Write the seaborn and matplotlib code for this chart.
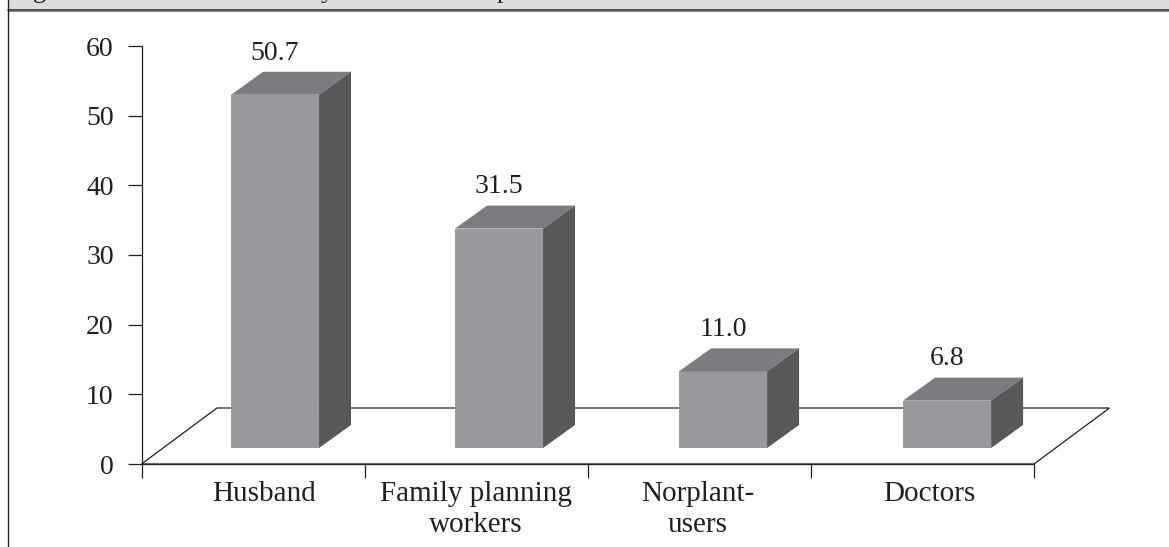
import matplotlib
matplotlib.use('Agg')
import matplotlib.pyplot as plt
from matplotlib.patches import Polygon, Rectangle
from matplotlib.lines import Line2D
import seaborn as sns

# values
categories = ['Husband', 'Family planning\nworkers', 'Norplant-\nusers', 'Doctors']
values = [50.7, 31.5, 11.0, 6.8]
y_ticks = [0, 10, 20, 30, 40, 50, 60]
# only the descenders of the caption survive the crop
caption_letters = ['g', 'y', 'p']
caption_x_px = [33, 321, 497]

W, H = 1169, 547
FRONT = '#98999c'
TOP = '#7b7c7f'
SIDE = '#58585a'
BAND = '#dcddde'
INK = '#231f20'

sns.set_style('ticks')
plt.rcParams['font.family'] = ['Liberation Serif', 'DejaVu Serif']

fig = plt.figure(figsize=(W / 100, H / 100), dpi=100)
ax = fig.add_axes([141.5 / W, 1 - 464 / H, (1034 - 141.5) / W, (464 - 46) / H])
ax.patch.set_alpha(0)

slot = 224.0  # px between bars
tick_step = 223.1 / slot  # the axis ticks are spaced a little tighter than the bars
px_y = 418 / 60  # px per unit
base = 16 / px_y
depth_x, depth_y = 32 / slot, 23 / px_y

sns.barplot(x=categories, y=values, color=FRONT, saturation=1, width=88 / slot,
            bottom=base, linewidth=0, ax=ax, zorder=3)

x_left, x_right = -133.5 / slot, -133.5 / slot + 4 * tick_step
ax.set_xlim(x_left, x_right)
ax.set_ylim(0, 60)

# 3D sides of each bar, taken from the bars seaborn drew
for bar in ax.containers[0]:
    x0, x1 = bar.get_x(), bar.get_x() + bar.get_width()
    y0, y1 = bar.get_y(), bar.get_y() + bar.get_height()
    ax.add_patch(Polygon([(x0, y1), (x1, y1), (x1 + depth_x, y1 + depth_y), (x0 + depth_x, y1 + depth_y)],
                         closed=True, fc=TOP, ec='none', zorder=3, clip_on=False))
    ax.add_patch(Polygon([(x1, y0), (x1, y1), (x1 + depth_x, y1 + depth_y), (x1 + depth_x, y0 + depth_y)],
                         closed=True, fc=SIDE, ec='none', zorder=3, clip_on=False))

# floor
floor_x, floor_y = 75.5 / slot, 56 / px_y
ax.add_patch(Polygon([(x_left, 0), (x_left + floor_x, floor_y), (x_right + floor_x, floor_y), (x_right, 0)],
                     closed=True, fc='white', ec=INK, lw=0.9, zorder=1, clip_on=False))

# bar_label would print the top edge (value + floor offset), so pass the values
ax.bar_label(ax.containers[0], labels=[f'{v:.1f}' for v in values], padding=21, fontsize=20, color=INK)

sns.despine(ax=ax)
for side in ['left', 'bottom']:
    ax.spines[side].set_color(INK)
    ax.spines[side].set_linewidth(0.9)

ax.set_yticks(y_ticks)
ax.tick_params(axis='y', length=10, width=0.9, color=INK, pad=10, labelsize=20, labelcolor=INK)

# boundaries get the tick marks, labels sit between them
ax.set_xticks([x_left + i * tick_step for i in range(5)])
ax.set_xticklabels([])
ax.tick_params(axis='x', which='major', length=10, width=0.9, color=INK)
ax.set_xticks([-0.047, 0.897, 1.888, 2.92], minor=True)
ax.set_xticklabels(categories, minor=True, fontsize=21, color=INK, linespacing=1.25)
ax.tick_params(axis='x', which='minor', length=0, pad=12)
ax.set_xlabel('')
ax.set_ylabel('')

# page furniture: caption band and left rule
fig.add_artist(Rectangle((8 / W, 1 - 9.5 / H), 1 - 8 / W, 9.5 / H, fc=BAND, ec='none', zorder=0))
fig.add_artist(Line2D([8 / W, 1], [1 - 9.5 / H] * 2, color=INK, lw=1.1))
fig.add_artist(Line2D([8 / W, 1], [1 - 10.7 / H] * 2, color='#8a8a8c', lw=0.8))
fig.add_artist(Line2D([7.5 / W] * 2, [0, 1], color=INK, lw=1.0))
for letter, x_px in zip(caption_letters, caption_x_px):
    fig.text(x_px / W, 1 + 2 / H, letter, fontsize=19, color=INK, va='baseline')

fig.savefig('out.png', dpi=100)
plt.close(fig)
